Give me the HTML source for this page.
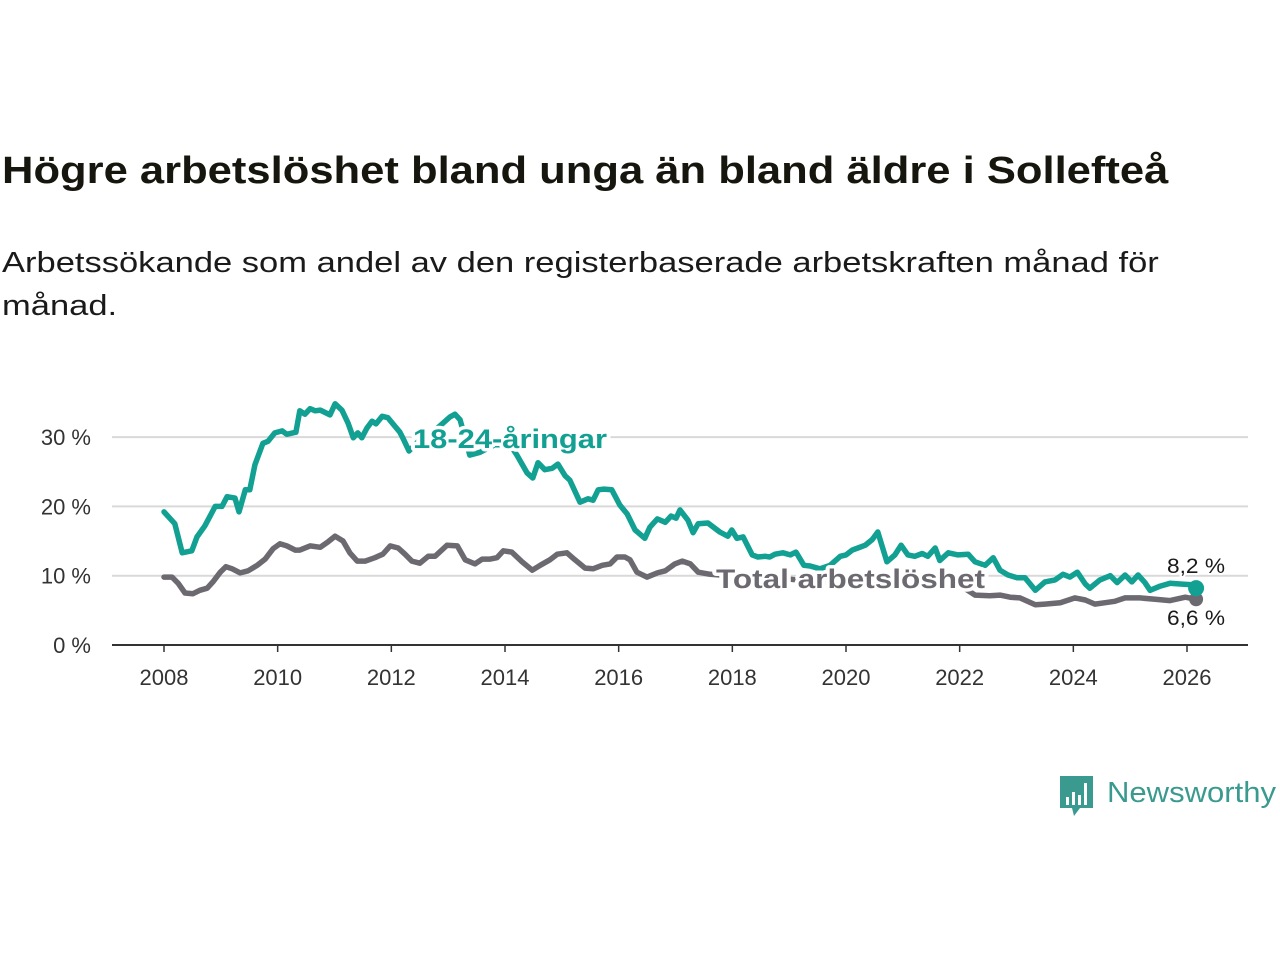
<!DOCTYPE html>
<html><head><meta charset="utf-8">
<style>
body{margin:0;width:1280px;height:960px;background:#fff;font-family:"Liberation Sans",sans-serif;overflow:hidden;position:relative}
#title{position:absolute;left:2px;top:150px;font-size:38px;font-weight:bold;color:#16160f;white-space:nowrap;transform-origin:0 0;transform:scaleX(1.146)}
#sub{position:absolute;left:2px;top:242px;font-size:29px;color:#1a1a1a;line-height:43px;white-space:nowrap;transform-origin:0 0;transform:scaleX(1.19)}
svg{position:absolute;left:0;top:0}
</style></head><body>
<div id="title">Högre arbetslöshet bland unga än bland äldre i Sollefteå</div>
<div id="sub">Arbetssökande som andel av den registerbaserade arbetskraften månad för<br>månad.</div>
<svg id="chart" width="1280" height="960"></svg>
<script>
const youthYears=[2008.00,2008.19,2008.32,2008.49,2008.58,2008.72,2008.90,2009.02,2009.11,2009.25,2009.32,2009.43,2009.51,2009.60,2009.74,2009.83,2009.95,2010.08,2010.16,2010.32,2010.39,2010.48,2010.57,2010.66,2010.75,2010.92,2011.01,2011.13,2011.24,2011.33,2011.41,2011.48,2011.57,2011.66,2011.73,2011.84,2011.94,2012.06,2012.15,2012.22,2012.31,2012.50,2012.77,2013.03,2013.12,2013.21,2013.38,2013.56,2013.82,2014.09,2014.21,2014.39,2014.49,2014.58,2014.70,2014.83,2014.93,2015.06,2015.14,2015.32,2015.46,2015.55,2015.64,2015.74,2015.88,2016.02,2016.15,2016.29,2016.46,2016.55,2016.68,2016.82,2016.92,2017.01,2017.08,2017.22,2017.31,2017.40,2017.57,2017.78,2017.92,2017.99,2018.08,2018.19,2018.35,2018.45,2018.58,2018.66,2018.75,2018.89,2019.02,2019.12,2019.26,2019.37,2019.54,2019.72,2019.90,2020.00,2020.11,2020.21,2020.34,2020.46,2020.56,2020.72,2020.86,2020.97,2021.09,2021.21,2021.34,2021.44,2021.57,2021.65,2021.80,2021.97,2022.15,2022.27,2022.45,2022.59,2022.71,2022.85,2023.01,2023.15,2023.33,2023.50,2023.68,2023.82,2023.94,2024.07,2024.21,2024.29,2024.47,2024.65,2024.77,2024.91,2025.03,2025.14,2025.26,2025.35,2025.53,2025.70,2025.88,2026.09,2026.16];
const youthValues=[19.2,17.5,13.3,13.6,15.6,17.2,20.0,20.0,21.4,21.2,19.2,22.4,22.4,26.0,29.1,29.4,30.6,30.9,30.4,30.7,33.8,33.3,34.1,33.8,33.9,33.2,34.8,33.9,32.0,29.9,30.6,29.9,31.3,32.3,31.9,33.0,32.8,31.6,30.7,29.6,28.0,29.6,31.0,32.9,33.3,32.5,27.4,27.8,28.9,28.9,27.4,24.8,24.1,26.3,25.3,25.5,26.1,24.4,23.8,20.6,21.1,20.9,22.4,22.5,22.4,20.2,18.9,16.6,15.4,17.0,18.2,17.7,18.6,18.3,19.5,18.0,16.2,17.5,17.6,16.3,15.7,16.6,15.4,15.6,13.0,12.7,12.8,12.7,13.1,13.3,13.0,13.4,11.5,11.4,11.0,11.5,12.8,13.0,13.7,14.0,14.4,15.2,16.3,12.0,13.0,14.4,13.0,12.8,13.2,12.8,14.0,12.2,13.3,13.0,13.1,12.0,11.5,12.6,10.8,10.1,9.7,9.7,7.9,9.1,9.4,10.2,9.8,10.5,8.8,8.2,9.4,10.0,9.0,10.1,9.1,10.1,9.0,7.9,8.5,8.9,8.8,8.7,8.2];
const totalYears=[2008.00,2008.14,2008.25,2008.37,2008.51,2008.63,2008.76,2008.86,2008.99,2009.09,2009.20,2009.34,2009.48,2009.64,2009.78,2009.92,2010.04,2010.16,2010.31,2010.39,2010.57,2010.75,2010.89,2011.01,2011.15,2011.27,2011.40,2011.54,2011.71,2011.85,2011.98,2012.12,2012.24,2012.36,2012.50,2012.65,2012.77,2012.98,2013.16,2013.30,2013.47,2013.60,2013.74,2013.86,2013.97,2014.12,2014.30,2014.48,2014.62,2014.79,2014.92,2015.09,2015.23,2015.41,2015.55,2015.71,2015.85,2015.97,2016.11,2016.20,2016.32,2016.50,2016.68,2016.82,2016.99,2017.12,2017.26,2017.40,2017.61,2017.96,2018.49,2019.02,2019.54,2020.07,2020.60,2021.13,2021.65,2022.01,2022.27,2022.53,2022.71,2022.89,2023.06,2023.33,2023.50,2023.77,2024.03,2024.21,2024.38,2024.56,2024.73,2024.91,2025.17,2025.44,2025.70,2025.97,2026.16];
const totalValues=[9.8,9.8,8.9,7.5,7.4,7.9,8.2,9.1,10.5,11.3,11.0,10.4,10.7,11.5,12.4,13.9,14.6,14.3,13.7,13.7,14.3,14.1,14.9,15.7,15.0,13.3,12.1,12.1,12.6,13.1,14.3,14.0,13.1,12.1,11.8,12.8,12.8,14.4,14.3,12.3,11.7,12.4,12.4,12.6,13.6,13.4,12.0,10.8,11.5,12.3,13.1,13.3,12.3,11.1,11.0,11.5,11.7,12.7,12.7,12.3,10.5,9.8,10.4,10.7,11.7,12.1,11.7,10.5,10.2,10.0,9.4,9.5,9.0,9.4,9.0,9.3,8.9,8.6,7.2,7.1,7.2,6.9,6.8,5.8,5.9,6.1,6.8,6.5,5.9,6.1,6.3,6.8,6.8,6.6,6.4,6.9,6.6];
const yTicks=[0,10,20,30];
const xTicks=[2008,2010,2012,2014,2016,2018,2020,2022,2024,2026];

const svg=document.getElementById('chart');const NS='http://www.w3.org/2000/svg';
const X=y=>164+(y-2008)*(1187-164)/18;
const Y=v=>645-v*6.93;
function mk(t,a){const e=document.createElementNS(NS,t);for(const k in a)e.setAttribute(k,a[k]);svg.appendChild(e);return e;}
yTicks.forEach(t=>{
  if(t>0){const g=mk('line',{x1:112,x2:1248,y1:Y(t),y2:Y(t),stroke:'#d9d9d9','stroke-width':2});
  
  }
  const l=mk('text',{x:91,y:Y(t)+8,'text-anchor':'end','font-size':22,fill:'#333'});l.textContent=t+' %';
  
  
});
const ax=mk('line',{x1:112,x2:1248,y1:645,y2:645,stroke:'#333','stroke-width':2});


xTicks.forEach(t=>{
  mk('line',{x1:X(t),x2:X(t),y1:645,y2:652,stroke:'#333','stroke-width':1.5});
  const l=mk('text',{x:X(t),y:685,'text-anchor':'middle','font-size':22,fill:'#333'});l.textContent=t;
  
  
});
function line(ys,vs,c,name){
  const d=ys.map((y,i)=>(i?'L':'M')+X(y).toFixed(1)+' '+Y(vs[i]).toFixed(1)).join(' ');
  const p=mk('path',{d:d,fill:'none',stroke:c,'stroke-width':5.5,'stroke-linejoin':'round','stroke-linecap':'round'});
  
  
}
line(totalYears,totalValues,'#6c6a70','total-line');
line(youthYears,youthValues,'#12a093','youth-line');
const ly=youthYears.length-1, lt=totalYears.length-1;
const d1=mk('circle',{cx:X(totalYears[lt]),cy:Y(totalValues[lt]),r:7,fill:'#6c6a70'});


const d2=mk('circle',{cx:X(youthYears[ly]),cy:Y(youthValues[ly]),r:8,fill:'#12a093'});


function lab(txt,x,y,c,sz,w,name,len){
  const a={x:x,y:y,fill:c,'font-size':sz,'font-weight':w,stroke:'#fff','stroke-width':w==='bold'?7:4,'paint-order':'stroke','stroke-linejoin':'round'};
  if(len){a.textLength=len;a.lengthAdjust='spacingAndGlyphs';}
  const t=mk('text',a);
  t.textContent=txt;
  
  
}
lab('18-24-åringar',413,448,'#12a093',27,'bold','youth-series-label',194);
lab('Total arbetslöshet',716,588,'#6c6a70',27,'bold','total-series-label',269);
lab(String(youthValues[ly]).replace('.',',')+' %',1167,573,'#1a1a1a',21,'normal','youth-end-label',58);
lab(String(totalValues[lt]).replace('.',',')+' %',1167,625,'#1a1a1a',21,'normal','total-end-label',58);
const g=mk('g',{});


const lp=document.createElementNS(NS,'path');lp.setAttribute('d','M1060 776 h33 v32 h-13 l-6 8 l-2 -8 h-12 z');lp.setAttribute('fill','#3a9a8f');g.appendChild(lp);
[[1066,797,3,8],[1072,792,3,13],[1078,795,3,10],[1084,783,3,22]].forEach(b=>{const r=document.createElementNS(NS,'rect');r.setAttribute('x',b[0]);r.setAttribute('y',b[1]);r.setAttribute('width',b[2]);r.setAttribute('height',b[3]);r.setAttribute('fill','#fff');g.appendChild(r);});
const lt2=document.createElementNS(NS,'text');lt2.setAttribute('x',1107);lt2.setAttribute('y',802);lt2.setAttribute('font-size',29);lt2.setAttribute('fill','#3a9a8f');lt2.setAttribute('textLength',169);lt2.setAttribute('lengthAdjust','spacingAndGlyphs');lt2.textContent='Newsworthy';g.appendChild(lt2);
</script>
</body></html>
